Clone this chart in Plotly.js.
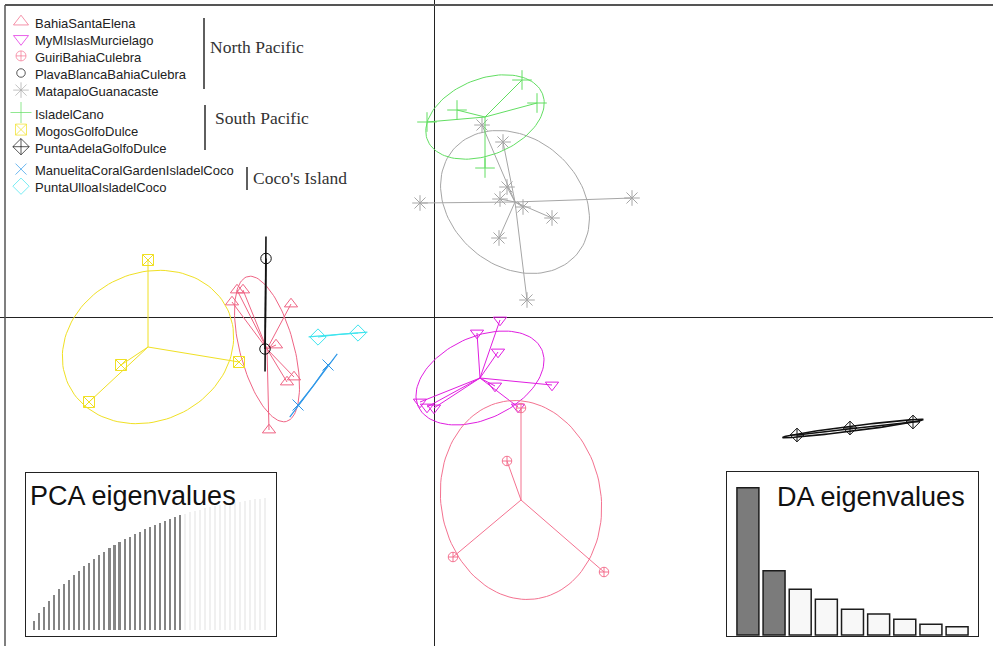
<!DOCTYPE html>
<html>
<head>
<meta charset="utf-8">
<script src="https://cdn.plot.ly/plotly-3.0.1.min.js"></script>
<style>
  html, body { margin: 0; padding: 0; background: #ffffff; }
  #chart { width: 993px; height: 646px; }
</style>
</head>
<body>
<div id="chart"></div>
<script>
// ---- Populations (legend order) and their regions ----
const populations = [
  "BahiaSantaElena", "MyMIslasMurcielago", "GuiriBahiaCulebra", "PlavaBlancaBahiaCulebra",
  "MatapaloGuanacaste", "IsladelCano", "MogosGolfoDulce", "PuntaAdelaGolfoDulce",
  "ManuelitaCoralGardenIsladelCoco", "PuntaUlloaIsladelCoco"
];
const regions = ["North Pacific", "South Pacific", "Coco's Island"];
const regionOf = [0, 0, 0, 0, 0, 1, 1, 1, 2, 2];

// ---- Individual scores on discriminant functions 1 (x) and 2 (y) ----
const ldBahiaSantaElena = [[-3.94, 0.54], [-3.82, 0.54], [-4.04, 0.30], [-2.86, 0.26], [-3.16, -0.56], [-2.94, -1.30], [-2.80, -1.20], [-3.30, -2.26]];
const ldMyMIslasMurcielago = [[1.32, -0.06], [0.86, -0.32], [1.28, -0.70], [2.36, -1.36], [1.22, -1.38], [-0.28, -1.70], [-0.14, -1.80], [0.00, -1.82], [1.68, -1.80]];
const ldGuiriBahiaCulebra = [[1.74, -1.82], [1.46, -2.88], [0.38, -4.80], [3.40, -5.10]];
const ldPlavaBlancaBahiaCulebra = [[-3.36, 1.17], [-3.38, -0.64]];
const ldMatapaloGuanacaste = [[0.96, 3.84], [1.38, 3.50], [1.46, 2.60], [1.32, 2.36], [-0.28, 2.28], [1.78, 2.20], [2.36, 1.98], [1.30, 1.58], [3.96, 2.38], [1.86, 0.34]];
const ldIsladelCano = [[1.76, 4.74], [2.06, 4.28], [0.46, 4.14], [-0.14, 3.90], [1.02, 2.98]];
const ldMogosGolfoDulce = [[-5.72, 1.14], [-6.26, -0.96], [-6.90, -1.70], [-3.90, -0.90]];
const ldPuntaAdelaGolfoDulce = [[7.26, -2.36], [8.32, -2.22], [9.58, -2.10]];
const ldManuelitaCoralGarden = [[-2.12, -0.96], [-2.72, -1.76]];
const ldPuntaUlloa = [[-2.32, -0.40], [-1.52, -0.32]];

// ---- Group centroids and inertia ellipses (semi-axes, orientation in degrees) ----
const centroids = [[-3.34, -0.64], [0.92, -1.22], [1.74, -3.66], [-3.37, 0.26], [1.62, 2.30], [1.02, 4.00], [-5.72, -0.60], [8.38, -2.23], [-2.41, -1.37], [-1.92, -0.35]];
const ellipseA = [1.50, 1.36, 2.00, 1.35, 1.62, 1.24, 1.76, 1.42, 0.79, 0.59];
const ellipseB = [0.54, 0.82, 1.60, 0.00, 1.28, 0.76, 1.48, 0.05, 0.00, 0.00];
const ellipseAngle = [-75, 25, 100, 89.6, -40, 22, 25, 7.2, 53, 4.8];

// ---- Inset bar charts ----
const pcaCumVarRetained = [7.0, 13.1, 17.7, 22.2, 26.5, 30.8, 34.8, 37.9, 41.7, 44.9, 48.5, 51.0, 53.8, 56.8, 59.3, 61.9, 64.4, 66.4, 68.9, 70.7, 72.7, 74.5, 76.5, 78.3, 79.5, 81.3, 82.8, 84.1, 85.4, 87.1];
const pcaCumVarOther = [88.2, 89.3, 90.3, 91.2, 92.1, 93.0, 93.8, 94.6, 95.3, 96.0, 96.7, 97.3, 97.9, 98.5, 99.0, 99.5, 100];
const daEigenvalues = [147.3, 64.3, 45.7, 35.7, 25.7, 21.0, 15.7, 10.7, 8.3];
const daRetained = 2;

// ---- Styling ----
const groupScores = [ldBahiaSantaElena, ldMyMIslasMurcielago, ldGuiriBahiaCulebra, ldPlavaBlancaBahiaCulebra,
  ldMatapaloGuanacaste, ldIsladelCano, ldMogosGolfoDulce, ldPuntaAdelaGolfoDulce, ldManuelitaCoralGarden, ldPuntaUlloa];
const colors = ["#EF6484", "#E01EE0", "#F47290", "#111111", "#A6A6A6", "#62DE62", "#F0E024", "#111111", "#2F98E8", "#3EE4EE"];
const symbols = ["triangle-up-open", "triangle-down-open", "circle-cross-open", "circle-open", "asterisk-open",
  "cross-thin-open", "square-x-open", "diamond-cross-open", "x-thin-open", "diamond-open"];
const sizes = [11.5, 11.5, 9.5, 10.5, 13, 14, 11, 10.5, 11, 12.5];
const keySizes = [13, 13, 10, 8.5, 13, 15, 11, 12.5, 11, 12.5];
const lineWidths = [1, 1, 1, 1.6, 1, 1, 1, 1.6, 1.2, 1.2];

const FONT_SANS = "Liberation Sans, Arial, sans-serif";
const FONT_SERIF = "Liberation Serif, Times New Roman, serif";

function ellipsePath(c, a, b, deg) {
  const th = deg * Math.PI / 180, xs = [], ys = [];
  for (let k = 0; k <= 120; k++) {
    const t = 2 * Math.PI * k / 120;
    xs.push(c[0] + a * Math.cos(t) * Math.cos(th) - b * Math.sin(t) * Math.sin(th));
    ys.push(c[1] + a * Math.cos(t) * Math.sin(th) + b * Math.sin(t) * Math.cos(th));
  }
  return { x: xs, y: ys };
}

const traces = [];
groupScores.forEach((pts, g) => {
  const c = centroids[g];
  // star: segments from centroid to every individual
  const sx = [], sy = [];
  pts.forEach(p => { sx.push(c[0], p[0], null); sy.push(c[1], p[1], null); });
  traces.push({ type: "scatter", mode: "lines", x: sx, y: sy, hoverinfo: "skip",
    line: { color: colors[g], width: lineWidths[g] }, showlegend: false });
  const e = ellipsePath(c, ellipseA[g], ellipseB[g], ellipseAngle[g]);
  traces.push({ type: "scatter", mode: "lines", x: e.x, y: e.y, hoverinfo: "skip",
    line: { color: colors[g], width: lineWidths[g] }, showlegend: false });
  traces.push({ type: "scatter", mode: "markers", name: populations[g],
    x: pts.map(p => p[0]), y: pts.map(p => p[1]),
    marker: { symbol: symbols[g], size: sizes[g], color: colors[g], line: { color: colors[g], width: 1 } },
    showlegend: false });
});

// PCA cumulative variance inset
traces.push({ type: "bar", xaxis: "x2", yaxis: "y2", x: pcaCumVarRetained.map((v, i) => i + 1), y: pcaCumVarRetained,
  width: 0.42, marker: { color: "#858585", line: { width: 0 } }, hoverinfo: "y", showlegend: false });
traces.push({ type: "bar", xaxis: "x2", yaxis: "y2", x: pcaCumVarOther.map((v, i) => i + 1 + pcaCumVarRetained.length), y: pcaCumVarOther,
  width: 0.42, marker: { color: "#f0f0f0", line: { width: 0 } }, hoverinfo: "y", showlegend: false });

// DA eigenvalues inset
traces.push({ type: "bar", xaxis: "x3", yaxis: "y3", x: daEigenvalues.map((v, i) => i + 1), y: daEigenvalues,
  width: 0.84, hoverinfo: "y", showlegend: false,
  marker: { color: daEigenvalues.map((v, i) => i < daRetained ? "#7b7b7b" : "#f8f8f8"), line: { color: "#1c1c1c", width: 1.5 } } });

// Legend keys, laid out in pixel space on an overlay axis
const keyRowY = populations.map((p, i) => 21.7 + 17.1 * i + 5.3 * regionOf[i]);
traces.push({ type: "scatter", mode: "markers", xaxis: "x4", yaxis: "y4", hoverinfo: "skip", showlegend: false,
  x: populations.map(() => 21), y: keyRowY,
  marker: { symbol: symbols, size: keySizes, color: colors, line: { color: colors, width: 1 } } });

const annotations = populations.map((p, i) => ({
  xref: "x4", yref: "y4", x: 33, y: keyRowY[i] + 1.5, xanchor: "left", yanchor: "middle",
  text: p, showarrow: false, font: { family: FONT_SANS, size: 13, color: "#222222" }
}));
const regionLabelPos = [[208, 46.5], [213, 118], [251, 178]];
regions.forEach((r, k) => annotations.push({
  xref: "x4", yref: "y4", x: regionLabelPos[k][0], y: regionLabelPos[k][1], xanchor: "left", yanchor: "middle",
  text: r, showarrow: false, font: { family: FONT_SERIF, size: 17.5, color: "#333333" }
}));
annotations.push({ xref: "x4", yref: "y4", x: 28, y: 496, xanchor: "left", yanchor: "middle", showarrow: false,
  text: "PCA eigenvalues", font: { family: FONT_SANS, size: 27, color: "#111111" } });
annotations.push({ xref: "x4", yref: "y4", x: 775, y: 497, xanchor: "left", yanchor: "middle", showarrow: false,
  text: "DA eigenvalues", font: { family: FONT_SANS, size: 27, color: "#111111" } });

const bracketLines = [[204, 18, 89], [205, 105, 150], [247, 167, 190]];
const shapes = bracketLines.map(b => ({ type: "line", xref: "x4", yref: "y4", x0: b[0], x1: b[0], y0: b[1], y1: b[2],
  line: { color: "#2a2a2a", width: 1.5 } }));
// outer frame (top and left edges)
shapes.push({ type: "line", xref: "x4", yref: "y4", x0: 5, x1: 993, y0: 5, y1: 5, line: { color: "#555555", width: 2 } });
shapes.push({ type: "line", xref: "x4", yref: "y4", x0: 5, x1: 5, y0: 5, y1: 646, line: { color: "#555555", width: 1.5 } });

const hidden = { showgrid: false, zeroline: false, showticklabels: false, ticks: "", showline: false };
const insetAxis = { showgrid: false, zeroline: false, showticklabels: false, ticks: "", showline: true, mirror: true,
  linecolor: "#222222", linewidth: 1, fixedrange: true };

const layout = {
  width: 993, height: 646,
  margin: { l: 0, r: 0, t: 0, b: 0, pad: 0 },
  paper_bgcolor: "#ffffff", plot_bgcolor: "rgba(0,0,0,0)",
  showlegend: false, barmode: "overlay", bargap: 0,
  xaxis: Object.assign({}, hidden, { domain: [0, 1], range: [-8.68, 11.18], zeroline: true, zerolinecolor: "#222222", zerolinewidth: 1, anchor: "y" }),
  yaxis: Object.assign({}, hidden, { domain: [0, 1], range: [-6.58, 6.34], zeroline: true, zerolinecolor: "#222222", zerolinewidth: 1, anchor: "x" }),
  xaxis2: Object.assign({}, insetAxis, { domain: [26 / 993, 276 / 993], range: [-0.59, 49.1], anchor: "y2" }),
  yaxis2: Object.assign({}, insetAxis, { domain: [1 - 636 / 646, 1 - 473 / 646], range: [-4.55, 118.9], anchor: "x2" }),
  xaxis3: Object.assign({}, insetAxis, { domain: [727 / 993, 978 / 993], range: [0.2, 9.8], anchor: "y3" }),
  yaxis3: Object.assign({}, insetAxis, { domain: [1 - 636 / 646, 1 - 472 / 646], range: [-1, 163], anchor: "x3" }),
  xaxis4: Object.assign({}, hidden, { domain: [0, 1], range: [0, 993], anchor: "y4", visible: false }),
  yaxis4: Object.assign({}, hidden, { domain: [0, 1], range: [646, 0], anchor: "x4", visible: false }),
  annotations: annotations,
  shapes: shapes
};

Plotly.newPlot("chart", traces, layout, { displayModeBar: false, staticPlot: true });
</script>
</body>
</html>
